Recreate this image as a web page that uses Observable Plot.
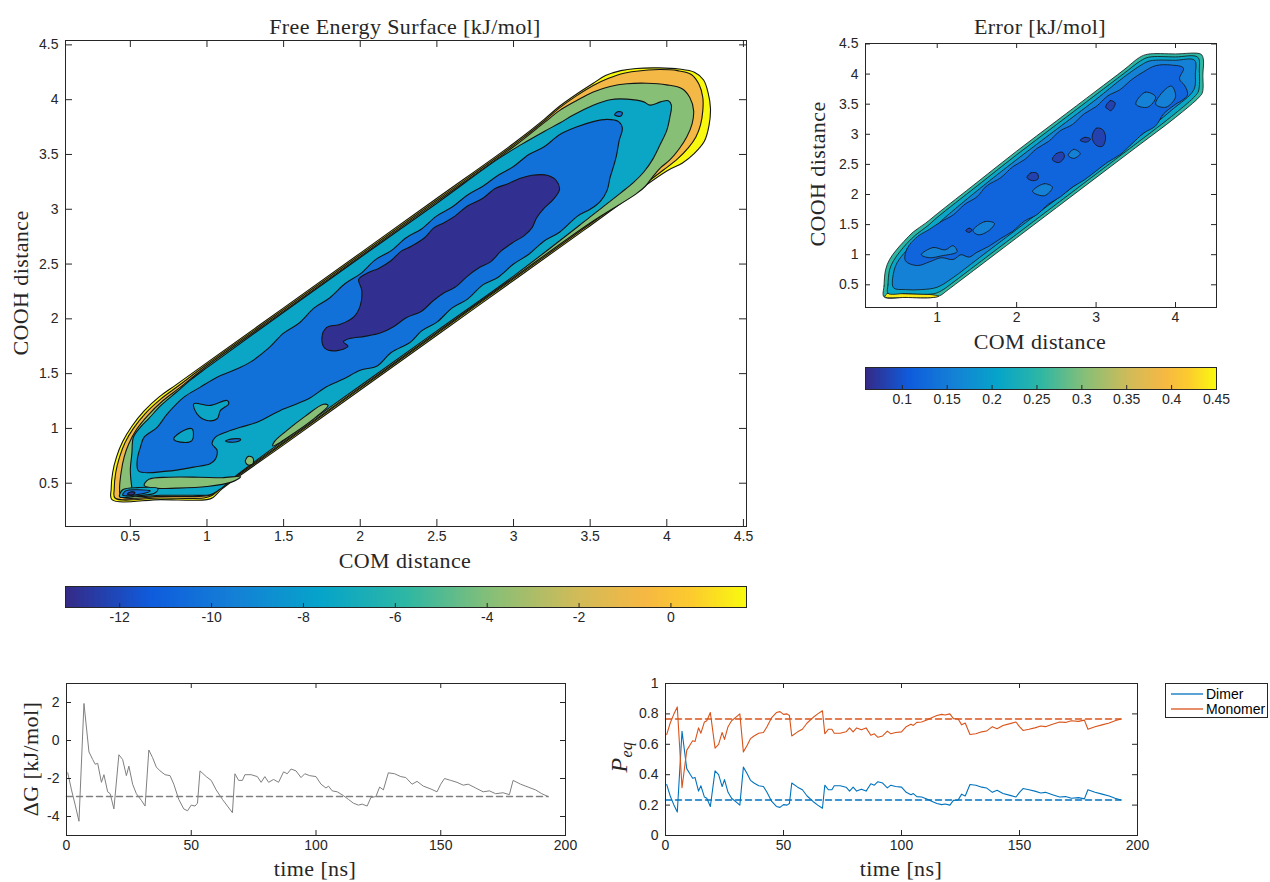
<!DOCTYPE html>
<html><head><meta charset="utf-8">
<script src="https://cdn.jsdelivr.net/npm/d3@7"></script>
<script src="https://cdn.jsdelivr.net/npm/@observablehq/plot@0.6"></script>
<style>
body{margin:0;background:#fff;}
#root{position:relative;width:1270px;height:882px;overflow:hidden;background:#fff;font-family:"Liberation Sans",Arial,sans-serif;}
.lbl{position:absolute;font-family:"Liberation Serif","Times New Roman",serif;font-size:22px;letter-spacing:0.4px;color:#262626;white-space:nowrap;transform:translate(-50%,-50%);}
.rot{transform:translate(-50%,-50%) rotate(-90deg);}
.legend{position:absolute;border:1px solid #262626;background:#fff;font-size:14px;color:#000;box-sizing:border-box;}
.legend .row{position:absolute;left:5px;height:15px;display:flex;align-items:center;white-space:nowrap;}
.legend svg{margin-right:3px;}
</style></head><body><div id="root"></div>
<script>
// ---------------- DATA ----------------
// Free energy surface: filled contour regions (vertices in COM / COOH distance units)
const fesLevels = [1.6, -0.7, -3.9, -7.4, -10.3, -13.0]; // yellow, orange, green, teal, blue, navy
const fesYellowEdge = [[0.38,0.35],[0.375,0.45],[0.385,0.60],[0.41,0.74],[0.45,0.88],[0.51,1.02],[0.59,1.16],[0.69,1.29],[0.80,1.40],[1.0,1.60],[1.5,2.10],[2.0,2.60],[2.5,3.10],[3.0,3.60],[3.2,3.82],[3.30,3.94],[3.41,4.05],[3.52,4.15],[3.60,4.22],[3.70,4.265],[3.80,4.285],[3.95,4.29],[4.08,4.28],[4.18,4.25],[4.24,4.18],[4.27,4.06],[4.285,3.92],[4.275,3.76],[4.245,3.62],[4.18,3.51],[4.10,3.42],[4.0,3.35],[3.5,2.85],[3.0,2.35],[2.5,1.85],[2.0,1.35],[1.5,0.85],[1.1,0.45],[1.04,0.37],[1.0,0.35],[0.7,0.35]];
const fesOrangeEdge = [[0.40,0.365],[0.395,0.45],[0.405,0.60],[0.43,0.74],[0.465,0.87],[0.52,1.0],[0.60,1.14],[0.70,1.27],[0.81,1.385],[1.0,1.585],[1.5,2.085],[2.0,2.585],[2.5,3.085],[3.0,3.585],[3.2,3.805],[3.30,3.925],[3.41,4.035],[3.52,4.13],[3.62,4.195],[3.70,4.235],[3.80,4.26],[3.95,4.275],[4.07,4.265],[4.16,4.23],[4.21,4.14],[4.235,4.02],[4.235,3.90],[4.22,3.77],[4.19,3.66],[4.14,3.56],[4.07,3.46],[3.98,3.36],[3.5,2.865],[3.0,2.365],[2.5,1.865],[2.0,1.365],[1.5,0.865],[1.1,0.465],[1.03,0.385],[0.98,0.365],[0.7,0.365]];
const fesGreenEdge = [[0.44,0.375],[0.43,0.45],[0.44,0.60],[0.46,0.74],[0.49,0.86],[0.54,0.99],[0.615,1.12],[0.71,1.25],[0.82,1.37],[1.0,1.57],[1.5,2.07],[2.0,2.57],[2.5,3.07],[3.0,3.57],[3.2,3.79],[3.30,3.90],[3.41,3.99],[3.52,4.07],[3.63,4.12],[3.74,4.145],[3.87,4.15],[4.0,4.135],[4.10,4.10],[4.15,4.02],[4.175,3.90],[4.165,3.78],[4.13,3.66],[4.08,3.55],[4.02,3.45],[3.96,3.38],[3.91,3.30],[3.86,3.21],[3.80,3.14],[3.5,2.875],[3.0,2.375],[2.5,1.875],[2.0,1.375],[1.5,0.875],[1.1,0.475],[1.03,0.395],[0.95,0.38],[0.7,0.38]];
const fesTealEdge = [[0.52,0.39],[0.51,0.46],[0.50,0.62],[0.51,0.77],[0.52,0.92],[0.565,1.01],[0.62,1.09],[0.70,1.21],[0.80,1.33],[0.9,1.45],[1.0,1.555],[1.5,2.06],[2.0,2.56],[2.5,3.055],[2.9,3.46],[3.05,3.59],[3.2,3.71],[3.305,3.79],[3.39,3.86],[3.52,3.95],[3.63,4.0],[3.74,4.005],[3.85,3.98],[3.89,3.95],[3.96,3.98],[4.01,3.99],[4.03,3.95],[4.02,3.84],[4.0,3.72],[3.96,3.60],[3.91,3.46],[3.85,3.34],[3.78,3.24],[3.70,3.15],[3.60,3.04],[3.5,2.93],[3.0,2.39],[2.5,1.89],[2.0,1.39],[1.5,0.89],[1.2,0.58],[1.08,0.44],[1.02,0.395],[0.9,0.39],[0.7,0.39]];
const fesGreenStripBottom = [[0.59,0.48],[0.62,0.535],[0.75,0.555],[0.95,0.555],[1.10,0.55],[1.22,0.56],[1.16,0.51],[1.0,0.47],[0.8,0.455],[0.65,0.455]];
const fesGreenStripSide = [[1.43,0.84],[1.56,0.95],[1.69,1.08],[1.79,1.21],[1.76,1.22],[1.64,1.11],[1.52,0.98],[1.44,0.88]];
const fesGreenBlob = [[1.25,0.70],[1.27,0.745],[1.30,0.73],[1.30,0.68],[1.27,0.665]];
const fesBlueEdge = [[0.555,0.61],[0.545,0.71],[0.566,0.83],[0.59,0.92],[0.675,1.01],[0.74,1.13],[0.85,1.285],[0.957,1.377],[1.066,1.468],[1.175,1.53],[1.283,1.605],[1.4,1.73],[1.5,1.87],[1.6,1.96],[1.7,2.10],[1.8,2.19],[1.9,2.32],[2.0,2.41],[2.1,2.54],[2.2,2.62],[2.3,2.74],[2.4,2.82],[2.5,2.94],[2.6,3.02],[2.7,3.13],[2.8,3.21],[2.9,3.31],[3.0,3.39],[3.1,3.50],[3.2,3.57],[3.3,3.68],[3.41,3.75],[3.52,3.80],[3.61,3.82],[3.685,3.80],[3.71,3.74],[3.69,3.63],[3.67,3.48],[3.65,3.38],[3.63,3.29],[3.61,3.17],[3.565,3.07],[3.5,3.0],[3.42,2.94],[3.3,2.79],[3.2,2.71],[3.1,2.59],[3.0,2.50],[2.9,2.38],[2.8,2.31],[2.7,2.18],[2.6,2.10],[2.5,1.97],[2.4,1.89],[2.33,1.79],[2.2,1.69],[2.11,1.57],[2.0,1.53],[1.89,1.45],[1.78,1.38],[1.674,1.28],[1.58,1.22],[1.479,1.164],[1.435,1.133],[1.327,1.057],[1.218,1.01],[1.131,0.97],[1.055,0.92],[1.033,0.86],[1.066,0.80],[1.055,0.72],[1.02,0.677],[0.914,0.647],[0.74,0.61]];
const fesTealIsland1 = [[0.914,1.225],[1.022,1.21],[1.131,1.255],[1.142,1.225],[1.088,1.164],[1.066,1.088],[1.0,1.073],[0.935,1.133]];
const fesTealIsland2 = [[0.783,0.905],[0.848,0.981],[0.903,0.996],[0.903,0.89],[0.827,0.875]];
const fesBlueSliver = [[1.12,0.885],[1.17,0.905],[1.22,0.90],[1.2,0.88],[1.15,0.875]];
const fesBlueDot = [[3.66,3.86],[3.68,3.89],[3.71,3.88],[3.70,3.85]];
const fesTipTeal = [[0.43,0.375],[0.45,0.44],[0.55,0.46],[0.68,0.45],[0.66,0.41],[0.55,0.385]];
const fesTipBlue = [[0.45,0.39],[0.47,0.43],[0.55,0.44],[0.63,0.43],[0.60,0.41],[0.52,0.39],[0.47,0.385]];
const fesTipNavy = [[0.48,0.40],[0.50,0.42],[0.53,0.415],[0.52,0.397],[0.495,0.395]];
const fesNavyCore = [[1.75,1.83],[1.78,1.92],[1.87,1.95],[1.96,2.02],[2.0,2.12],[2.01,2.26],[1.99,2.36],[2.05,2.42],[2.12,2.46],[2.2,2.53],[2.27,2.62],[2.33,2.66],[2.42,2.74],[2.48,2.83],[2.55,2.88],[2.62,2.94],[2.70,3.03],[2.8,3.10],[2.88,3.19],[2.96,3.23],[3.04,3.28],[3.12,3.31],[3.22,3.31],[3.28,3.26],[3.30,3.18],[3.26,3.09],[3.20,3.01],[3.15,2.92],[3.12,2.83],[3.07,2.76],[3.0,2.70],[2.92,2.62],[2.85,2.52],[2.78,2.47],[2.7,2.39],[2.62,2.29],[2.55,2.24],[2.48,2.17],[2.40,2.07],[2.30,2.01],[2.22,1.93],[2.13,1.87],[2.03,1.84],[1.93,1.82],[1.89,1.79],[1.92,1.75],[1.85,1.71],[1.77,1.73]];

// Error surface regions
const errLevels = [0.255, 0.21, 0.157, 0.118, 0.082, 0.44]; // rim, cyan, light blue, main blue, dark, yellow
const errOutline = [[0.33,0.30],[0.33,0.48],[0.35,0.75],[0.40,0.92],[0.48,1.07],[0.58,1.22],[0.70,1.38],[0.85,1.52],[1.0,1.68],[1.5,2.2],[2.0,2.72],[2.5,3.22],[3.0,3.72],[3.35,4.07],[3.55,4.28],[3.65,4.33],[4.0,4.335],[4.32,4.33],[4.35,4.25],[4.345,4.0],[4.34,3.70],[4.30,3.62],[4.0,3.28],[3.5,2.78],[3.0,2.28],[2.5,1.78],[2.0,1.28],[1.5,0.78],[1.2,0.48],[1.1,0.38],[1.05,0.33],[0.95,0.29],[0.6,0.29]];
const errYellowBottom = [[0.34,0.30],[0.6,0.29],[0.95,0.29],[1.02,0.31],[0.9,0.34],[0.6,0.35],[0.38,0.36]];
const errCyan = [[0.38,0.36],[0.38,0.50],[0.40,0.75],[0.45,0.90],[0.53,1.05],[0.62,1.19],[0.73,1.33],[0.88,1.48],[1.0,1.62],[1.5,2.14],[2.0,2.66],[2.5,3.16],[3.0,3.66],[3.35,4.01],[3.56,4.22],[3.66,4.28],[4.0,4.285],[4.28,4.28],[4.30,4.05],[4.29,3.72],[4.25,3.64],[4.0,3.35],[3.5,2.84],[3.0,2.34],[2.5,1.84],[2.0,1.34],[1.5,0.84],[1.2,0.54],[1.05,0.40],[0.95,0.35],[0.6,0.355]];
const errLight = [[0.45,0.45],[0.45,0.70],[0.5,0.88],[0.58,1.02],[0.68,1.16],[0.80,1.30],[0.95,1.44],[1.1,1.62],[1.5,2.06],[2.0,2.58],[2.5,3.08],[3.0,3.58],[3.35,3.95],[3.58,4.16],[3.68,4.22],[4.0,4.23],[4.24,4.23],[4.25,4.0],[4.23,3.74],[3.95,3.40],[3.5,2.92],[3.0,2.42],[2.5,1.92],[2.0,1.42],[1.5,0.92],[1.2,0.62],[1.0,0.46],[0.8,0.42],[0.6,0.42]];
const errMain = [[0.6,0.9],[0.62,1.1],[0.75,1.30],[0.9,1.42],[1.05,1.55],[1.2,1.66],[1.35,1.84],[1.5,1.96],[1.62,2.14],[1.8,2.28],[1.95,2.46],[2.1,2.58],[2.25,2.76],[2.4,2.88],[2.55,3.06],[2.7,3.16],[2.85,3.34],[3.0,3.46],[3.15,3.64],[3.3,3.74],[3.45,3.91],[3.6,4.04],[3.75,4.14],[3.95,4.15],[4.1,4.10],[4.05,3.92],[4.12,3.80],[4.15,3.65],[3.98,3.48],[3.85,3.34],[3.75,3.14],[3.6,3.02],[3.45,2.84],[3.3,2.66],[3.15,2.54],[3.0,2.39],[2.85,2.24],[2.7,2.12],[2.55,1.96],[2.4,1.84],[2.25,1.66],[2.1,1.56],[1.95,1.39],[1.8,1.27],[1.65,1.14],[1.5,1.04],[1.4,0.96],[1.3,1.0],[1.2,0.92],[1.05,0.95],[0.9,0.88],[0.75,0.82]];
const errLightPatches = [
  [[1.45,1.40],[1.6,1.55],[1.72,1.52],[1.65,1.40],[1.52,1.33]],
  [[2.2,2.05],[2.35,2.18],[2.45,2.12],[2.35,1.98]],
  [[3.5,3.5],[3.62,3.70],[3.75,3.62],[3.65,3.45]],
  [[2.65,2.65],[2.72,2.75],[2.8,2.68],[2.72,2.6]],
  [[0.8,1.0],[0.95,1.12],[1.1,1.08],[1.2,1.15],[1.25,1.05],[1.05,0.98],[0.9,0.95]],
  [[3.75,3.5],[3.85,3.72],[3.95,3.8],[4.0,3.62],[3.88,3.45]]
];
const errDarkIslands = [
  [[3.12,3.45],[3.18,3.56],[3.24,3.52],[3.22,3.44],[3.18,3.39],[3.15,3.42]],
  [[2.95,2.95],[3.0,3.10],[3.08,3.08],[3.12,2.95],[3.08,2.80],[3.0,2.82]],
  [[2.80,2.90],[2.86,2.95],[2.93,2.92],[2.88,2.87]],
  [[2.45,2.58],[2.5,2.68],[2.58,2.70],[2.60,2.62],[2.53,2.53]],
  [[2.13,2.28],[2.18,2.36],[2.26,2.35],[2.27,2.26],[2.2,2.23]],
  [[1.36,1.40],[1.40,1.44],[1.44,1.41],[1.40,1.37]]
];

// Colour bar ranges and ticks
const fesRange = [-13.18, 1.645];
const errRange = [0.059, 0.45];
const fesCbTicks = [-12, -10, -8, -6, -4, -2, 0];
const errCbTicks = [0.1, 0.15, 0.2, 0.25, 0.3, 0.35, 0.4, 0.45];
const distTicks = [0.5, 1, 1.5, 2, 2.5, 3, 3.5, 4, 4.5];
const errXTicks = [1, 2, 3, 4];

// Time series
const timeNs = [0.5,2,3.5,5,7,9,10.5,11.5,12.5,14,15,16.5,17.5,19,21,22.5,24,25,26.5,28,30,31.5,33,34.5,36,37.5,39.5,41.5,43,45,47,48.5,50,51.5,52.5,53.5,56,58,60,62.5,64.5,66.5,67.5,69,70.5,71.5,74,76.5,78,79.5,81,83,85,87,88.5,90,92,94,95.5,97.5,100,102,104,105,106.5,108.5,111,113,115,117,118.5,120.5,122,124,125.5,127,129,131.5,134,136,138.5,140.5,143,146,148.5,150,151.5,154,156.5,159,161,164,167,169.5,172,175,177.5,179,182,185,188,190.5,193];
const deltaG = [-1.7,-2.6,-3.4,-4.25,1.95,-0.6,-1.0,-1.25,-1.2,-2.2,-1.8,-2.7,-2.8,-3.6,-0.75,-1.0,-1.85,-1.35,-2.3,-2.8,-3.15,-3.45,-0.5,-0.9,-1.4,-1.6,-1.8,-1.85,-2.3,-3.1,-3.6,-3.7,-3.4,-3.45,-3.3,-1.6,-1.9,-2.1,-2.6,-3.1,-3.45,-3.8,-1.75,-2.1,-2.1,-1.8,-1.8,-1.9,-2.2,-1.9,-2.2,-2.05,-2.2,-1.65,-1.75,-1.5,-1.6,-1.95,-1.75,-1.85,-1.9,-2.3,-2.5,-2.4,-2.65,-2.7,-2.9,-3.1,-3.3,-3.4,-3.35,-3.45,-3.0,-2.95,-2.45,-2.6,-1.7,-1.75,-1.9,-1.95,-2.3,-2.15,-2.4,-2.55,-2.7,-2.3,-2.0,-2.1,-2.2,-2.35,-2.3,-2.5,-2.7,-2.65,-2.8,-2.75,-2.85,-2.1,-2.3,-2.45,-2.6,-2.8,-2.95];
const dimer = [0.336,0.260,0.203,0.154,0.686,0.440,0.401,0.377,0.382,0.292,0.327,0.253,0.245,0.191,0.425,0.401,0.322,0.368,0.284,0.245,0.220,0.200,0.450,0.410,0.363,0.345,0.327,0.322,0.284,0.224,0.191,0.185,0.203,0.200,0.210,0.345,0.318,0.301,0.260,0.224,0.200,0.179,0.331,0.301,0.301,0.327,0.327,0.318,0.292,0.318,0.292,0.305,0.292,0.340,0.331,0.354,0.345,0.313,0.331,0.322,0.318,0.284,0.268,0.276,0.256,0.253,0.238,0.224,0.210,0.203,0.207,0.200,0.231,0.234,0.272,0.260,0.336,0.331,0.318,0.313,0.284,0.297,0.276,0.264,0.253,0.284,0.309,0.301,0.292,0.280,0.284,0.268,0.253,0.256,0.245,0.249,0.241,0.301,0.284,0.272,0.260,0.245,0.234];
const monomer = [0.664,0.740,0.797,0.846,0.314,0.560,0.599,0.623,0.618,0.708,0.673,0.747,0.755,0.809,0.575,0.599,0.678,0.632,0.716,0.755,0.780,0.800,0.550,0.590,0.637,0.655,0.673,0.678,0.716,0.776,0.809,0.815,0.797,0.800,0.790,0.655,0.682,0.699,0.740,0.776,0.800,0.821,0.669,0.699,0.699,0.673,0.673,0.682,0.708,0.682,0.708,0.695,0.708,0.660,0.669,0.646,0.655,0.687,0.669,0.678,0.682,0.716,0.732,0.724,0.744,0.747,0.762,0.776,0.790,0.797,0.793,0.800,0.769,0.766,0.728,0.740,0.664,0.669,0.682,0.687,0.716,0.703,0.724,0.736,0.747,0.716,0.691,0.699,0.708,0.720,0.716,0.732,0.747,0.744,0.755,0.751,0.759,0.699,0.716,0.728,0.740,0.755,0.766];
const eqTimeSpan = [0, 193];
const deltaGEq = -2.95;
const dimerEq = 0.234;
const monomerEq = 0.766;
const timeTicks = [0, 50, 100, 150, 200];
const dgTicks = [-4, -2, 0, 2];
const pTicks = [0, 0.2, 0.4, 0.6, 0.8, 1];
const seriesNames = ["Dimer", "Monomer"];
const seriesColors = ["#0072BD", "#D95319"];

// ---------------- RENDER ----------------
const root = document.getElementById("root");
const INK = "#262626";
const parulaStops = [0, 0.125, 0.25, 0.375, 0.5, 0.625, 0.75, 0.85, 0.92, 1];
const parulaColors = ["#352a87","#0f5cdd","#1481d6","#06a4ca","#2eb7a4","#87bf77","#d1bb59","#f6b843","#fccb2e","#f9fb0e"];
const parula = d3.scaleLinear().domain(parulaStops).range(parulaColors).interpolate(d3.interpolateRgb).clamp(true);
const fmt = d => String(d);

function polyRows(list) {
  return list.flatMap(([pts, v], i) => pts.map(([x, y]) => ({id: i, v, x, y})));
}

function put(el, left, top) {
  el.style.position = "absolute";
  el.style.left = left + "px";
  el.style.top = top + "px";
  root.appendChild(el);
}

function axes({fx, fy, fw, fh, xDomain, yDomain, xTicks, yTicks, marks, color, tick = 6}) {
  const ML = 70, MR = 20, MT = 12, MB = 40;
  const svg = Plot.plot({
    width: fw + ML + MR, height: fh + MT + MB,
    marginLeft: ML, marginRight: MR, marginTop: MT, marginBottom: MB,
    x: {domain: xDomain}, y: {domain: yDomain},
    color,
    style: {background: "transparent", fontFamily: "'Liberation Sans', Arial, sans-serif", fontSize: "14px", color: INK, overflow: "visible"},
    marks: [
      ...marks,
      Plot.frame({stroke: INK, strokeWidth: 1}),
      Plot.tickX(xTicks, {x: d => d, insetTop: fh - tick, stroke: INK}),
      Plot.tickX(xTicks, {x: d => d, insetBottom: fh - tick, stroke: INK}),
      Plot.tickY(yTicks, {y: d => d, insetRight: fw - tick, stroke: INK}),
      Plot.tickY(yTicks, {y: d => d, insetLeft: fw - tick, stroke: INK}),
      Plot.axisX(xTicks, {tickSize: 0, tickPadding: 5, label: null, tickFormat: fmt, fontSize: 14}),
      Plot.axisY(yTicks, {tickSize: 0, tickPadding: 7, label: null, tickFormat: fmt, fontSize: 14})
    ]
  });
  put(svg, fx - ML, fy - MT);
}

function colorbar({fx, fy, fw, fh, domain, ticks}) {
  const ML = 30, MR = 30, MT = 4, MB = 26;
  const svg = Plot.plot({
    width: fw + ML + MR, height: fh + MT + MB,
    marginLeft: ML, marginRight: MR, marginTop: MT, marginBottom: MB,
    x: {domain}, y: {domain: [0, 1], axis: null},
    color: {type: "linear", domain, interpolate: t => parula(t)},
    style: {background: "transparent", fontFamily: "'Liberation Sans', Arial, sans-serif", fontSize: "14px", color: INK, overflow: "visible"},
    marks: [
      Plot.raster({x1: domain[0], x2: domain[1], y1: 0, y2: 1, width: 400, height: 1, fill: (x, y) => x, imageRendering: "auto"}),
      Plot.frame({stroke: INK, strokeWidth: 1}),
      Plot.tickX(ticks, {x: d => d, insetTop: fh - 4, stroke: INK}),
      Plot.axisX(ticks, {tickSize: 0, tickPadding: 5, label: null, tickFormat: fmt, fontSize: 14})
    ]
  });
  put(svg, fx - ML, fy - MT);
}

function label(html, cx, cy, rotate = false, size) {
  const d = document.createElement("div");
  d.className = "lbl" + (rotate ? " rot" : "");
  d.innerHTML = html;
  if (size) d.style.fontSize = size + "px";
  d.style.left = cx + "px";
  d.style.top = cy + "px";
  root.appendChild(d);
}

// --- Free energy surface ---
const [lvY, lvO, lvG, lvT, lvB, lvN] = fesLevels;
const fesRows = polyRows([
  [fesYellowEdge, lvY], [fesOrangeEdge, lvO], [fesGreenEdge, lvG], [fesTealEdge, lvT],
  [fesGreenStripBottom, lvG], [fesGreenStripSide, lvG], [fesGreenBlob, lvG],
  [fesBlueEdge, lvB], [fesTealIsland1, lvT], [fesTealIsland2, lvT], [fesBlueSliver, lvB], [fesBlueDot, lvB],
  [fesTipTeal, lvT], [fesTipBlue, lvB], [fesTipNavy, lvN], [fesNavyCore, lvN]
]);
const fesColor = {type: "linear", domain: fesRange, interpolate: t => parula(t)};
axes({
  fx: 65, fy: 40, fw: 681, fh: 486,
  xDomain: [0.077, 4.52], yDomain: [0.105, 4.54],
  xTicks: distTicks, yTicks: distTicks, color: fesColor, tick: 7,
  marks: [Plot.line(fesRows, {x: "x", y: "y", z: "id", fill: "v", stroke: "#141414", strokeWidth: 1.1, curve: "catmull-rom-closed"})]
});
colorbar({fx: 65, fy: 586, fw: 681, fh: 21, domain: fesRange, ticks: fesCbTicks});
label("Free Energy Surface [kJ/mol]", 405, 27);
label("COM distance", 405, 561);
label("COOH distance", 21, 283, true);

// --- Error surface ---
const [eRim, eCyan, eLight, eMain, eDark, eYel] = errLevels;
const errRows = polyRows([
  [errOutline, eRim], [errYellowBottom, eYel], [errCyan, eCyan], [errLight, eLight], [errMain, eMain],
  ...errLightPatches.map(p => [p, eLight]),
  ...errDarkIslands.map(p => [p, eDark])
]);
axes({
  fx: 865, fy: 43, fw: 351, fh: 264,
  xDomain: [0.097, 4.516], yDomain: [0.123, 4.508],
  xTicks: errXTicks, yTicks: distTicks, tick: 5,
  color: {type: "linear", domain: errRange, interpolate: t => parula(t)},
  marks: [Plot.line(errRows, {x: "x", y: "y", z: "id", fill: "v", stroke: "#141414", strokeWidth: 0.8, curve: "catmull-rom-closed"})]
});
colorbar({fx: 865, fy: 367, fw: 351, fh: 22, domain: errRange, ticks: errCbTicks});
label("Error [kJ/mol]", 1040, 27);
label("COM distance", 1040, 342);
label("COOH distance", 818, 174, true);

// --- Delta G vs time ---
const dgRows = timeNs.map((t, i) => ({t, v: deltaG[i]}));
axes({
  fx: 66, fy: 683, fw: 499, fh: 152,
  xDomain: [0, 200], yDomain: [-5, 3],
  xTicks: timeTicks, yTicks: dgTicks, tick: 5,
  marks: [
    Plot.line(eqTimeSpan.map(t => ({t, v: deltaGEq})), {x: "t", y: "v", stroke: "#808080", strokeWidth: 1.5, strokeDasharray: "6,4"}),
    Plot.line(dgRows, {x: "t", y: "v", stroke: "#808080", strokeWidth: 1})
  ]
});
label("&Delta;G [kJ/mol]", 31, 759, true);
label("time [ns]", 315, 869);

// --- Equilibrium probabilities ---
const pRows = timeNs.flatMap((t, i) => [{t, p: dimer[i], s: seriesNames[0]}, {t, p: monomer[i], s: seriesNames[1]}]);
const eqRows = eqTimeSpan.flatMap(t => [{t, p: dimerEq, s: seriesNames[0]}, {t, p: monomerEq, s: seriesNames[1]}]);
axes({
  fx: 665, fy: 683, fw: 472, fh: 152,
  xDomain: [0, 200], yDomain: [0, 1],
  xTicks: timeTicks, yTicks: pTicks, tick: 5,
  color: {domain: seriesNames, range: seriesColors},
  marks: [
    Plot.line(eqRows, {x: "t", y: "p", z: "s", stroke: "s", strokeWidth: 1.5, strokeDasharray: "6,4"}),
    Plot.line(pRows, {x: "t", y: "p", z: "s", stroke: "s", strokeWidth: 1.1})
  ]
});
label("<i>P</i><sub style='font-size:16px'><i>eq</i></sub>", 621, 757, true, 24);
label("time [ns]", 901, 869);

// legend
const lg = document.createElement("div");
lg.className = "legend";
lg.style.width = "103px"; lg.style.height = "35px";
seriesNames.forEach((name, i) => {
  const r = document.createElement("div");
  r.className = "row"; r.style.top = (2 + i * 15) + "px";
  r.innerHTML = `<svg width="32" height="4"><line x1="0" y1="2" x2="32" y2="2" stroke="${seriesColors[i]}" stroke-width="1.3"/></svg><span>${name}</span>`;
  lg.appendChild(r);
});
put(lg, 1165, 683);
</script></body></html>
